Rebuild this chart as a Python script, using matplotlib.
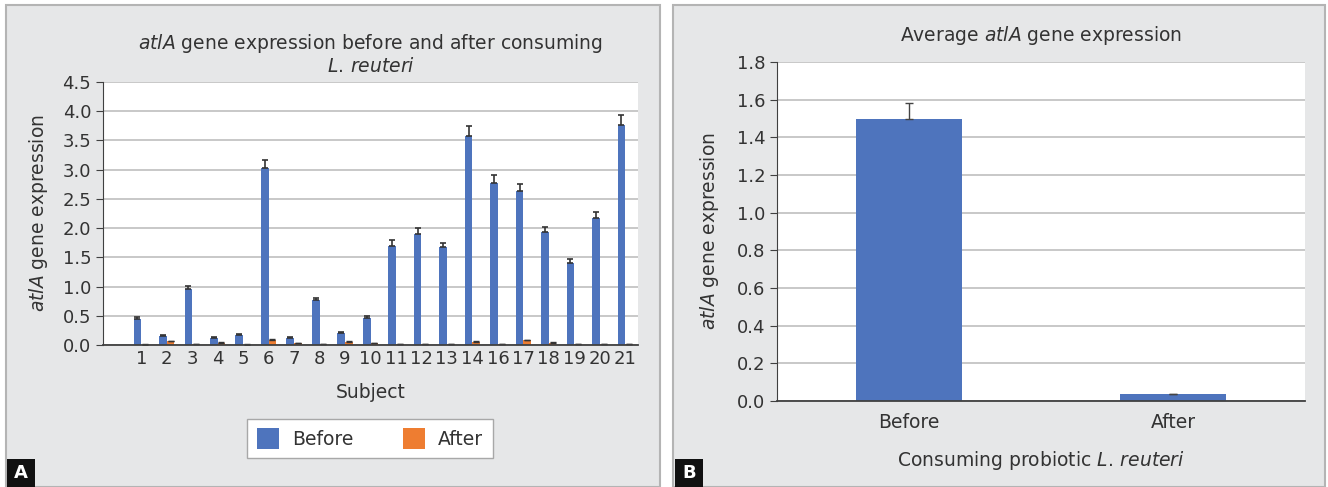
import numpy as np
import matplotlib.pyplot as plt
from matplotlib.patches import Rectangle

# Datos por sujeto (el sujeto 15 no aparece)
sujetos = ['1', '2', '3', '4', '5', '6', '7', '8', '9', '10',
           '11', '12', '13', '14', '16', '17', '18', '19', '20', '21']
antes = [0.44, 0.16, 0.96, 0.12, 0.17, 3.02, 0.12, 0.77, 0.21, 0.46,
         1.70, 1.90, 1.68, 3.57, 2.78, 2.63, 1.93, 1.41, 2.17, 3.76]
antes_err = [0.04, 0.01, 0.05, 0.01, 0.01, 0.15, 0.01, 0.03, 0.01, 0.04,
             0.10, 0.10, 0.07, 0.17, 0.13, 0.13, 0.09, 0.07, 0.11, 0.18]
despues = [0.005, 0.06, 0.02, 0.04, 0.005, 0.09, 0.03, 0.02, 0.05, 0.03,
           0.02, 0.02, 0.02, 0.05, 0.02, 0.08, 0.04, 0.02, 0.02, 0.02]
despues_err = [0.005, 0.01, 0.005, 0.005, 0.005, 0.01, 0.005, 0.005, 0.01, 0.005,
               0.005, 0.005, 0.005, 0.01, 0.005, 0.01, 0.01, 0.005, 0.005, 0.005]

# Promedios
grupos = ['Before', 'After']
promedio = [1.50, 0.035]
promedio_err = [0.08, 0.003]

azul = '#4e74bd'
naranja = '#ee7d31'
fondo = '#e6e7e8'
rejilla = '#c4c4c4'
eje = '#404040'
texto = '#333333'
especie = r'$\mathit{L.}\,\mathit{reuteri}$'

W, H = 1328, 487
fig = plt.figure(figsize=(W / 100, H / 100), dpi=100)
fig.patch.set_facecolor('white')

# Paneles grises con borde
for x0, x1 in [(6, 660), (673, 1325)]:
    fig.patches.append(Rectangle((x0 / W, 0), (x1 - x0) / W, (H - 5) / H,
                                 transform=fig.transFigure, facecolor=fondo,
                                 edgecolor='#b4b4b4', lw=1.5, zorder=-5))


def estilo(ax):
    ax.set_facecolor('white')
    ax.grid(axis='y', color=rejilla, lw=1.3)
    ax.set_axisbelow(True)
    for s in ['top', 'right']:
        ax.spines[s].set_visible(False)
    ax.spines['left'].set_color(eje)
    ax.spines['bottom'].set_color(eje)
    ax.spines['bottom'].set_linewidth(1.3)
    ax.tick_params(axis='y', colors=eje, labelsize=13, length=5, labelcolor=texto)
    ax.tick_params(axis='x', length=0, labelsize=13, labelcolor=texto)


# Panel A
axA = fig.add_axes([103 / W, (H - 345) / H, 535 / W, 263 / H])
estilo(axA)
x = np.arange(len(sujetos))
ancho = 0.3
axA.bar(x - ancho / 2, antes, ancho, color=azul, label='Before',
        yerr=[np.zeros(len(antes)), antes_err], capsize=2.5,
        error_kw=dict(ecolor='#333333', elinewidth=1.2, capthick=1.2))
axA.bar(x + ancho / 2, despues, ancho, color=naranja, label='After',
        yerr=[np.zeros(len(despues)), despues_err], capsize=2,
        error_kw=dict(ecolor='#333333', elinewidth=1, capthick=1))
axA.set_xticks(x)
axA.set_xticklabels(sujetos)
axA.set_xlim(-1.5, len(sujetos) - 0.5)
axA.set_ylim(0, 4.5)
axA.set_yticks(np.arange(0, 4.51, 0.5))
axA.set_yticklabels([f'{v:.1f}' for v in np.arange(0, 4.51, 0.5)])
axA.set_xlabel('Subject', fontsize=13.5, color=texto, labelpad=11)
axA.set_ylabel(r'$\mathit{atlA}$ gene expression', fontsize=13.5, color=texto, labelpad=9)
axA.set_title(r'$\mathit{atlA}$ gene expression before and after consuming' + '\n'
              + especie, fontsize=13.5, color=texto, pad=7, linespacing=1.15)
leg = axA.legend(loc='center', bbox_to_anchor=((370 - 103) / 535, -0.355),
                 ncol=2, fontsize=13.5, frameon=True, fancybox=False, framealpha=1,
                 handlelength=1.2, handleheight=1.3, columnspacing=2.6,
                 handletextpad=0.7, borderpad=0.5, edgecolor='#a8a8a8')
for t in leg.get_texts():
    t.set_color(texto)

# Panel B
axB = fig.add_axes([777 / W, (H - 401) / H, 528 / W, 339 / H])
estilo(axB)
xb = np.arange(len(grupos))
axB.bar(xb, promedio, 0.4, color=azul,
        yerr=[np.zeros(len(promedio)), promedio_err], capsize=3,
        error_kw=dict(ecolor='#444444', elinewidth=1, capthick=1))
axB.set_xticks(xb)
axB.set_xticklabels(grupos)
axB.tick_params(axis='x', pad=9, labelsize=13.5)
axB.set_xlim(-0.5, 1.5)
axB.set_ylim(0, 1.8)
axB.set_yticks(np.arange(0, 1.81, 0.2))
axB.set_yticklabels([f'{v:.1f}' for v in np.arange(0, 1.81, 0.2)])
axB.set_ylabel(r'$\mathit{atlA}$ gene expression', fontsize=13.5, color=texto, labelpad=11)
axB.set_xlabel('Consuming probiotic ' + especie, fontsize=13.5,
               color=texto, labelpad=12)
axB.set_title(r'Average $\mathit{atlA}$ gene expression', fontsize=13.5,
              color=texto, pad=15)

# Etiquetas de panel
for x0, letra in [(7, 'A'), (675, 'B')]:
    fig.patches.append(Rectangle((x0 / W, 0), 28 / W, 28 / H, transform=fig.transFigure,
                                 facecolor='#111111', edgecolor='none', zorder=5))
    fig.text((x0 + 14) / W, 14 / H, letra, color='white', fontsize=13,
             fontweight='bold', ha='center', va='center', zorder=6)

fig.savefig('out.png', dpi=100)
